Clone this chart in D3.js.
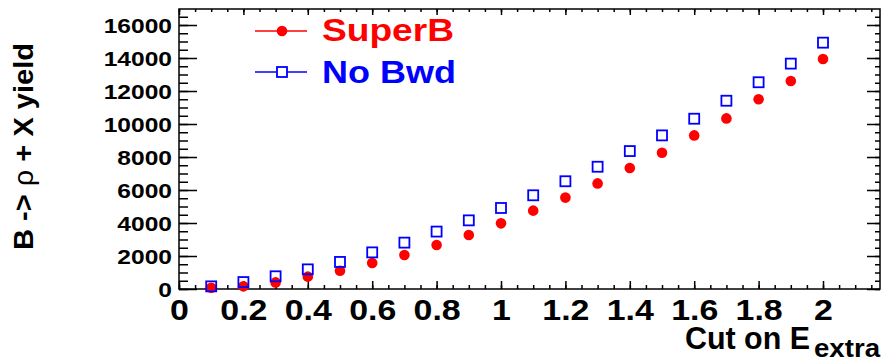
<!DOCTYPE html>
<html><head><meta charset="utf-8">
<script src="https://cdn.jsdelivr.net/npm/d3@7"></script>
<style>
html,body{margin:0;padding:0;background:#fff;}
svg{display:block;font-family:"Liberation Sans",Arial,sans-serif;font-weight:bold;}
</style></head>
<body><svg id="c" width="886" height="363"></svg>
<script>
const xValues = [0.1,0.2,0.3,0.4,0.5,0.6,0.7,0.8,0.9,1.0,1.1,1.2,1.3,1.4,1.5,1.6,1.7,1.8,1.9,2.0];
const superB = [80,160,400,750,1110,1580,2060,2670,3270,3980,4750,5540,6400,7330,8260,9310,10340,11500,12610,13940];
const noBwd = [160,420,770,1190,1640,2220,2810,3480,4160,4910,5680,6530,7410,8360,9310,10320,11410,12530,13660,14930];
const xTicks = [0,0.2,0.4,0.6,0.8,1,1.2,1.4,1.6,1.8,2];
const xTickLabels = ["0","0.2","0.4","0.6","0.8","1","1.2","1.4","1.6","1.8","2"];
const yTicks = [0,2000,4000,6000,8000,10000,12000,14000,16000];
const seriesNames = ["SuperB","No Bwd"];
const xTitle = "Cut on E";
const xTitleSub = "extra";
const yTitle = ["B -> ", "\u03c1", " + X yield"];

const svg = d3.select("#c");
const L=179, R=880, T=9, B=289;
const x = d3.scaleLinear().domain([0,2.177]).range([L,R]);
const y = d3.scaleLinear().domain([0,16970]).range([B,T]);

// frame
svg.append("rect").attr("x",L).attr("y",T).attr("width",R-L).attr("height",B-T)
  .attr("fill","none").attr("stroke","#000").attr("stroke-width",1.5);

const xMinor = d3.range(0,2.18,0.05).map(v=>+v.toFixed(2));
const yMinor = d3.range(0,16971,500);

function styleAxis(g){ g.select(".domain").remove(); g.selectAll("line").attr("stroke","#000").attr("stroke-width",1.5); }

// bottom axis
const gxm = svg.append("g").attr("transform",`translate(0,${B})`)
  .call(d3.axisBottom(x).tickValues(xMinor).tickSizeInner(-4).tickSizeOuter(0).tickFormat(""));
styleAxis(gxm);
const gx = svg.append("g").attr("transform",`translate(0,${B})`)
  .call(d3.axisBottom(x).tickValues(xTicks).tickSizeInner(-8).tickSizeOuter(0).tickFormat((d,i)=>xTickLabels[i]));
styleAxis(gx);
gx.selectAll("text").attr("y",31).attr("dy",0).attr("font-size",30).attr("font-weight","bold").attr("fill","#000")
  .attr("font-family","Liberation Sans, Arial, sans-serif");
// top axis
const gtm = svg.append("g").attr("transform",`translate(0,${T})`)
  .call(d3.axisTop(x).tickValues(xMinor).tickSizeInner(-3).tickSizeOuter(0).tickFormat(""));
styleAxis(gtm);
const gt = svg.append("g").attr("transform",`translate(0,${T})`)
  .call(d3.axisTop(x).tickValues(xTicks).tickSizeInner(-6).tickSizeOuter(0).tickFormat(""));
styleAxis(gt);

// left axis
const gym = svg.append("g").attr("transform",`translate(${L},0)`)
  .call(d3.axisLeft(y).tickValues(yMinor).tickSizeInner(-9).tickSizeOuter(0).tickFormat(""));
styleAxis(gym);
const gy = svg.append("g").attr("transform",`translate(${L},0)`)
  .call(d3.axisLeft(y).tickValues(yTicks).tickSizeInner(-18).tickSizeOuter(0).tickPadding(7).tickFormat(d3.format("d")));
styleAxis(gy);
gy.selectAll("text").attr("dy",0).attr("y",7.5).attr("font-size",21).attr("font-weight","bold").attr("fill","#000")
  .attr("font-family","Liberation Sans, Arial, sans-serif");
// right axis
const grm = svg.append("g").attr("transform",`translate(${R},0)`)
  .call(d3.axisRight(y).tickValues(yMinor).tickSizeInner(-5).tickSizeOuter(0).tickFormat(""));
styleAxis(grm);
const gr = svg.append("g").attr("transform",`translate(${R},0)`)
  .call(d3.axisRight(y).tickValues(yTicks).tickSizeInner(-13).tickSizeOuter(0).tickFormat(""));
styleAxis(gr);

// stretch tick labels horizontally
function stretch(sel,f){ sel.each(function(){ const n=this.getComputedTextLength(); d3.select(this).attr("textLength",n*f).attr("lengthAdjust","spacingAndGlyphs"); }); }
stretch(gx.selectAll("text"),1.13);
stretch(gy.selectAll("text"),1.17);

// data
const pts = xValues.map((v,i)=>({x:v,a:superB[i],b:noBwd[i]}));
svg.append("g").selectAll("circle").data(pts).join("circle")
  .attr("cx",d=>x(d.x)).attr("cy",d=>y(d.a)).attr("r",5.3).attr("fill","#ff0000");
svg.append("g").selectAll("rect").data(pts).join("rect")
  .attr("x",d=>x(d.x)-5).attr("y",d=>y(d.b)-5).attr("width",10).attr("height",10)
  .attr("fill","none").attr("stroke","#0000ff").attr("stroke-width",1.8);

// legend
const lg = svg.append("g");
lg.append("line").attr("x1",255).attr("x2",307).attr("y1",31).attr("y2",31).attr("stroke","#ff0000").attr("stroke-width",1.5);
lg.append("circle").attr("cx",282).attr("cy",31).attr("r",5.3).attr("fill","#ff0000");
lg.append("text").attr("x",322).attr("y",41).attr("font-size",32).attr("fill","#ff0000")
  .attr("textLength",132).attr("lengthAdjust","spacingAndGlyphs").text(seriesNames[0]);
lg.append("line").attr("x1",255).attr("x2",307).attr("y1",72).attr("y2",72).attr("stroke","#0000ff").attr("stroke-width",1.5);
lg.append("rect").attr("x",277).attr("y",67).attr("width",10).attr("height",10).attr("fill","#fff").attr("stroke","#0000ff").attr("stroke-width",1.8);
lg.append("text").attr("x",322).attr("y",83).attr("font-size",32).attr("fill","#0000ff")
  .attr("textLength",134).attr("lengthAdjust","spacingAndGlyphs").text(seriesNames[1]);

// x title
const xt = svg.append("text").attr("y",349).attr("font-size",31).attr("fill","#000");
xt.append("tspan").attr("x",685).attr("textLength",125).attr("lengthAdjust","spacingAndGlyphs").text(xTitle);
xt.append("tspan").attr("x",814).attr("dy",8).attr("font-size",25).attr("textLength",66).attr("lengthAdjust","spacingAndGlyphs").text(xTitleSub);

// y title
const yt = svg.append("text").attr("transform","translate(33,250) rotate(-90)").attr("font-size",28).attr("fill","#000")
  .attr("textLength",207).attr("lengthAdjust","spacingAndGlyphs");
yt.append("tspan").text(yTitle[0]);
yt.append("tspan").attr("font-weight","normal").text(yTitle[1]);
yt.append("tspan").text(yTitle[2]);
</script></body></html>
